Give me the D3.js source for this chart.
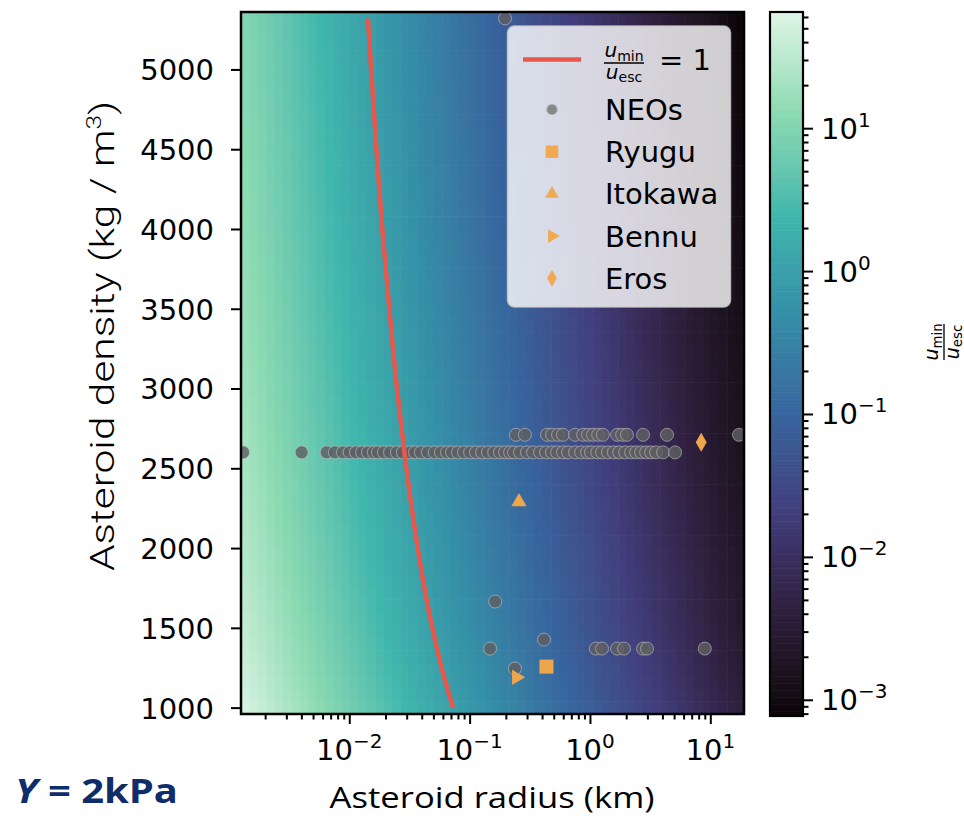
<!DOCTYPE html>
<html>
<head>
<script src="https://cdn.jsdelivr.net/npm/d3@7"></script>
<style>
    body { margin: 0; background: #fff; }
    svg { display: block; font-family: 'DejaVu Sans', sans-serif; }
</style>
</head>
<body>
<div id="chart"></div>
<script>
// axis limits (radius in km, density in kg/m3)
var xDomain = [0.00126, 19.05];
var yDomain = [960, 5360];
var xTickValues = [0.01, 0.1, 1, 10];
var xTickExp = ["\u22122", "\u22121", "0", "1"];
var yTickValues = [1000, 1500, 2000, 2500, 3000, 3500, 4000, 4500, 5000];
var cbarRange = [7.7e-4, 65];
var cbarTickValues = [1e-3, 1e-2, 1e-1, 1, 10];
var cbarTickExp = ["\u22123", "\u22122", "\u22121", "0", "1"];

// NEOs, row at 2600 kg/m3
var neoRadiusA = [0.00131, 0.00402, 0.00649, 0.0076, 0.00887, 0.0101, 0.0114, 0.0128, 0.0143, 0.016,
    0.0173, 0.0194, 0.0218, 0.0249, 0.0279, 0.0319, 0.0352, 0.0394, 0.0451, 0.0515,
    0.0578, 0.0649, 0.0714, 0.08, 0.0898, 0.101, 0.113, 0.127, 0.142, 0.16,
    0.179, 0.197, 0.217, 0.234, 0.262, 0.3, 0.337, 0.385, 0.432, 0.484,
    0.533, 0.597, 0.658, 0.752, 0.844, 0.946, 1.02, 1.15, 1.26, 1.41,
    1.58, 1.75, 1.96, 2.2, 2.42, 2.66, 2.93, 3.22, 3.54, 4.05, 5.1];
// NEOs, row at 2710 kg/m3
var neoRadiusB = [0.243, 0.288, 0.44, 0.484, 0.543, 0.597, 0.752, 0.877, 0.965, 1.06,
    1.17, 1.28, 1.68, 1.85, 2.03, 2.76, 4.37, 17.3];
// remaining NEOs
var neoRadiusC = [0.197, 0.163, 0.415, 0.148, 0.238, 1.12, 1.26, 1.68, 1.92, 2.76, 2.98, 9.0];
var neoDensityC = [5320, 1665, 1426, 1370, 1245, 1370, 1370, 1370, 1370, 1370, 1370, 1370];

// visited asteroids
var targetNames = ["Ryugu", "Itokawa", "Bennu", "Eros"];
var targetRadius = [0.435, 0.257, 0.245, 8.4];
var targetDensity = [1257, 2290, 1190, 2663];

// u_min / u_esc = 1 curve
var lineDensity = [1000, 1200, 1500, 1800, 2200, 2600, 3000, 3500, 4000, 4500, 5000, 5320];
var lineRadius = [0.0728, 0.0609, 0.049, 0.041, 0.0338, 0.0287, 0.0249, 0.0215, 0.0188, 0.0168, 0.0152, 0.0143];

// background field: ratio = 1 on the curve, falls off as 1/radius
var fieldRadius0 = 0.0728, fieldDensity0 = 1000, fieldSlope = 0.975;
var nCols = 60, nRows = 55;

var makoPos = [0, 1/7, 2/7, 3/7, 4/7, 5/7, 6/7, 1];
var makoColors = ["#0b0405", "#2e1e3b", "#413d7b", "#37659e", "#348fa7", "#40b7ad", "#8bdab2", "#def5e5"];

var W = 964, H = 818;
var plot = {left: 241, top: 12, width: 503, height: 702};
var cbar = {left: 770, top: 12, width: 33, height: 704};

var svg = d3.select("#chart").append("svg").attr("width", W).attr("height", H);

var x = d3.scaleLog().domain(xDomain).range([plot.left, plot.left + plot.width]);
var y = d3.scaleLinear().domain(yDomain).range([plot.top + plot.height, plot.top]);

var mako = d3.scaleLinear().domain(makoPos).range(makoColors).interpolate(d3.interpolateLab);
var cnorm = d3.scaleLog().domain(cbarRange).range([0, 1]).clamp(true);
function color(v) { return mako(cnorm(v)); }

function ratio(r, rho) {
    return fieldRadius0 * Math.pow(fieldDensity0 / rho, fieldSlope) / r;
}

// mesh
var lx0 = Math.log10(xDomain[0]), lx1 = Math.log10(xDomain[1]);
var cells = [];
for (var i = 0; i < nCols; i++) {
    for (var j = 0; j < nRows; j++) {
        var a = Math.pow(10, lx0 + (lx1 - lx0) * i / nCols);
        var b = Math.pow(10, lx0 + (lx1 - lx0) * (i + 1) / nCols);
        var d0 = yDomain[0] + (yDomain[1] - yDomain[0]) * j / nRows;
        var d1 = yDomain[0] + (yDomain[1] - yDomain[0]) * (j + 1) / nRows;
        cells.push({r0: a, r1: b, d0: d0, d1: d1, v: ratio(Math.sqrt(a * b), (d0 + d1) / 2)});
    }
}
svg.append("g").selectAll("rect")
    .data(cells)
    .enter().append("rect")
    .attr("x", d => x(d.r0))
    .attr("width", d => x(d.r1) - x(d.r0) + 0.6)
    .attr("y", d => y(d.d1))
    .attr("height", d => y(d.d0) - y(d.d1) + 0.6)
    .attr("fill", d => color(d.v));

// NEOs
var neos = neoRadiusA.map(r => [r, 2600])
    .concat(neoRadiusB.map(r => [r, 2710]))
    .concat(neoRadiusC.map((r, i) => [r, neoDensityC[i]]));

svg.append("clipPath").attr("id", "clip").append("rect")
    .attr("x", plot.left).attr("y", plot.top).attr("width", plot.width).attr("height", plot.height);

var marks = svg.append("g").attr("clip-path", "url(#clip)");

marks.selectAll("circle.neo")
    .data(neos)
    .enter().append("circle")
    .attr("class", "neo")
    .attr("cx", d => x(d[0]))
    .attr("cy", d => y(d[1]))
    .attr("r", 6.5)
    .attr("fill", "#5e5e62")
    .attr("fill-opacity", 0.82)
    .attr("stroke", "#cfcfcf")
    .attr("stroke-opacity", 0.6)
    .attr("stroke-width", 0.9);

var orange = "#eda64c";
var symbols = {
    Ryugu: {type: d3.symbolSquare, size: 196, rot: 0},
    Itokawa: {type: d3.symbolTriangle, size: 100, rot: 0},
    Bennu: {type: d3.symbolTriangle, size: 100, rot: 90},
    Eros: {type: d3.symbolDiamond, size: 104, rot: 0}
};

marks.selectAll("path.target")
    .data(targetNames)
    .enter().append("path")
    .attr("class", "target")
    .attr("d", n => d3.symbol().type(symbols[n].type).size(symbols[n].size)())
    .attr("transform", (n, i) => "translate(" + x(targetRadius[i]) + "," + y(targetDensity[i]) + ") rotate(" + symbols[n].rot + ")")
    .attr("fill", orange);

// curve
var line = d3.line()
    .x((d, i) => x(lineRadius[i]))
    .y(d => y(d))
    .curve(d3.curveMonotoneY);

marks.append("path")
    .datum(lineDensity)
    .attr("d", line)
    .attr("fill", "none")
    .attr("stroke", "#e8574b")
    .attr("stroke-width", 4.5);

// spines
svg.append("rect")
    .attr("x", plot.left).attr("y", plot.top)
    .attr("width", plot.width).attr("height", plot.height)
    .attr("fill", "none").attr("stroke", "#000").attr("stroke-width", 2.5);

// x axis
function minorLog(domain) {
    var out = [];
    for (var e = -4; e <= 2; e++) {
        for (var k = 2; k <= 9; k++) {
            var v = k * Math.pow(10, e);
            if (v >= domain[0] && v <= domain[1]) out.push(v);
        }
    }
    return out;
}

var xAxisG = svg.append("g").attr("transform", "translate(0," + (plot.top + plot.height) + ")");
xAxisG.append("g").call(d3.axisBottom(x).tickValues(xTickValues).tickSize(10).tickSizeOuter(0).tickFormat(""));
xAxisG.append("g").call(d3.axisBottom(x).tickValues(minorLog(xDomain)).tickSize(5.5).tickSizeOuter(0).tickFormat(""));
xAxisG.selectAll(".domain").remove();
xAxisG.selectAll(".tick line").attr("stroke-width", 2);

xTickValues.forEach(function (v, i) {
    var t = svg.append("text")
        .attr("x", x(v)).attr("y", 760)
        .attr("text-anchor", "middle")
        .attr("font-size", 29);
    t.append("tspan").text("10");
    t.append("tspan").attr("dy", -12).attr("font-size", 20).text(xTickExp[i]);
});

// y axis
var yAxisG = svg.append("g").attr("transform", "translate(" + plot.left + ",0)");
yAxisG.call(d3.axisLeft(y).tickValues(yTickValues).tickSize(10).tickSizeOuter(0).tickPadding(17).tickFormat(d3.format("d")));
yAxisG.select(".domain").remove();
yAxisG.selectAll(".tick line").attr("stroke-width", 2);
yAxisG.selectAll(".tick text").attr("font-size", 29).attr("font-family", "'DejaVu Sans', sans-serif").attr("dy", "0.36em");

// axis titles
var yTitle = svg.append("text")
    .attr("transform", "translate(114,336) rotate(-90)")
    .attr("text-anchor", "middle")
    .attr("font-family", "Roboto, sans-serif")
    .attr("font-weight", 300)
    .attr("font-size", 34)
    .attr("textLength", 470)
    .attr("lengthAdjust", "spacingAndGlyphs");
yTitle.append("tspan").text("Asteroid density (kg / m");
yTitle.append("tspan").attr("font-size", 21).attr("dy", -13).text("3");
yTitle.append("tspan").attr("dy", 13).text(")");

svg.append("text")
    .attr("x", 492).attr("y", 808)
    .attr("text-anchor", "middle")
    .attr("font-family", "'Open Sans', sans-serif")
    .attr("font-size", 29)
    .attr("textLength", 325)
    .attr("lengthAdjust", "spacingAndGlyphs")
    .text("Asteroid radius (km)");

var yLabel = svg.append("text")
    .attr("x", 15).attr("y", 803)
    .attr("font-family", "'Open Sans', sans-serif")
    .attr("font-weight", "bold")
    .attr("font-size", 34)
    .attr("fill", "#0f2d6b")
    .attr("textLength", 163)
    .attr("lengthAdjust", "spacingAndGlyphs");
yLabel.append("tspan").attr("font-style", "italic").text("Y");
yLabel.append("tspan").text(" = 2kPa");

// legend
var leg = svg.append("g");
leg.append("rect")
    .attr("x", 507.5).attr("y", 26).attr("width", 223).attr("height", 281)
    .attr("rx", 7)
    .attr("fill", "#fff").attr("fill-opacity", 0.8)
    .attr("stroke", "#cccccc").attr("stroke-opacity", 0.8).attr("stroke-width", 1.5);

leg.append("line")
    .attr("x1", 523).attr("x2", 581).attr("y1", 59.5).attr("y2", 59.5)
    .attr("stroke", "#e8574b").attr("stroke-width", 4.5);

function fraction(g, cx, cy, fs, barW) {
    var sub = fs * 0.7;
    var num = g.append("text").attr("x", cx).attr("y", cy - fs * 0.3).attr("text-anchor", "middle").attr("font-size", fs);
    num.append("tspan").attr("font-style", "italic").text("u");
    num.append("tspan").attr("font-size", sub).attr("dy", fs * 0.18).text("min");
    g.append("line")
        .attr("x1", cx - barW / 2).attr("x2", cx + barW / 2)
        .attr("y1", cy).attr("y2", cy)
        .attr("stroke", "#000").attr("stroke-width", fs * 0.07);
    var den = g.append("text").attr("x", cx).attr("y", cy + fs * 0.78).attr("text-anchor", "middle").attr("font-size", fs);
    den.append("tspan").attr("font-style", "italic").text("u");
    den.append("tspan").attr("font-size", sub).attr("dy", fs * 0.15).text("esc");
}
fraction(leg, 624, 63, 20, 40);
leg.append("text").attr("x", 659).attr("y", 70).attr("font-size", 29).text("= 1");

var legendRows = ["NEOs"].concat(targetNames);
legendRows.forEach(function (name, i) {
    var ry = 109.5 + 42.2 * i;
    if (name === "NEOs") {
        leg.append("circle").attr("cx", 552).attr("cy", ry).attr("r", 5.3)
            .attr("fill", "#88888c").attr("stroke", "#bbbbbb").attr("stroke-width", 0.8);
    } else {
        var s = symbols[name];
        leg.append("path")
            .attr("d", d3.symbol().type(s.type).size(s.size * 0.8)())
            .attr("transform", "translate(552," + ry + ") rotate(" + s.rot + ")")
            .attr("fill", "#f0ab52");
    }
    leg.append("text").attr("x", 605).attr("y", ry).attr("dy", "0.36em")
        .attr("font-size", 29).text(name);
});

// colorbar
var cy = d3.scaleLog().domain(cbarRange).range([cbar.top + cbar.height, cbar.top]);
var nSlices = 300;
var slices = d3.range(nSlices);
svg.append("g").selectAll("rect")
    .data(slices)
    .enter().append("rect")
    .attr("x", cbar.left)
    .attr("width", cbar.width)
    .attr("y", i => cbar.top + cbar.height * (nSlices - i - 1) / nSlices)
    .attr("height", cbar.height / nSlices + 0.6)
    .attr("fill", i => mako((i + 0.5) / nSlices));

svg.append("rect")
    .attr("x", cbar.left).attr("y", cbar.top).attr("width", cbar.width).attr("height", cbar.height)
    .attr("fill", "none").attr("stroke", "#000").attr("stroke-width", 2.2);

var cAxisG = svg.append("g").attr("transform", "translate(" + (cbar.left + cbar.width) + ",0)");
cAxisG.append("g").call(d3.axisRight(cy).tickValues(cbarTickValues).tickSize(10).tickSizeOuter(0).tickFormat(""));
cAxisG.append("g").call(d3.axisRight(cy).tickValues(minorLog(cbarRange)).tickSize(5.5).tickSizeOuter(0).tickFormat(""));
cAxisG.selectAll(".domain").remove();
cAxisG.selectAll(".tick line").attr("stroke-width", 2);

cbarTickValues.forEach(function (v, i) {
    var t = svg.append("text")
        .attr("x", 821).attr("y", cy(v) + 10.5)
        .attr("font-size", 29);
    t.append("tspan").text("10");
    t.append("tspan").attr("dy", -12).attr("font-size", 20).text(cbarTickExp[i]);
});

// colorbar title, rotated fraction
var cTitle = svg.append("g").attr("transform", "translate(944,342) rotate(-90)");
fraction(cTitle, 0, 0, 19, 36);
</script>
</body>
</html>
